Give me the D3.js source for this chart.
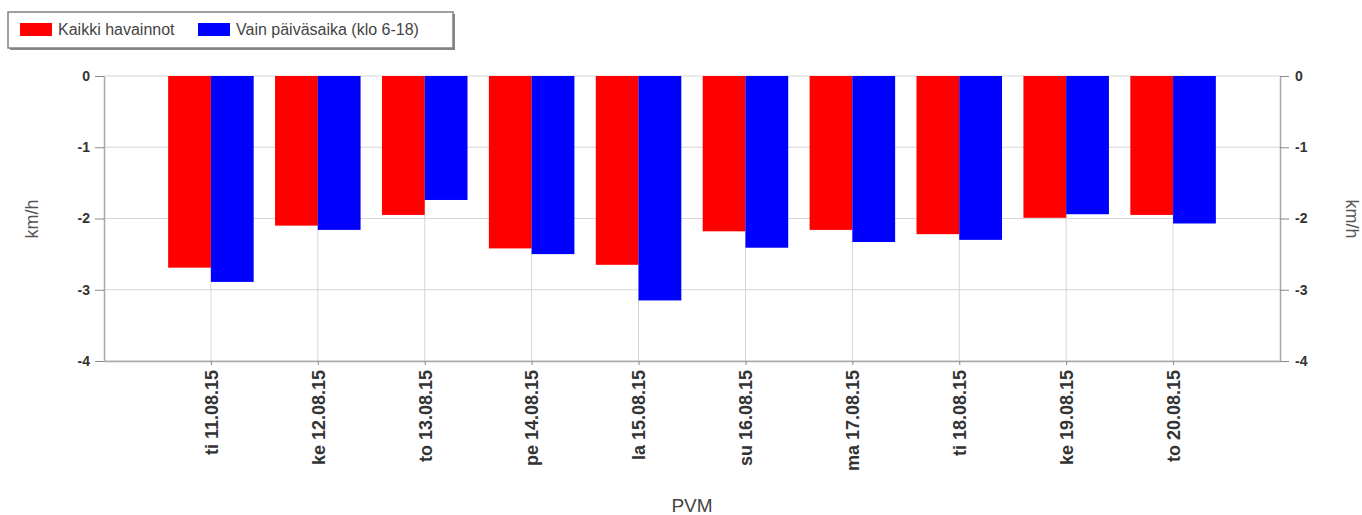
<!DOCTYPE html>
<html><head><meta charset="utf-8">
<script src="https://cdn.jsdelivr.net/npm/d3@7"></script>
<style>body{margin:0;background:#fff}svg{display:block}text{font-family:"Liberation Sans",Arial,sans-serif}</style>
</head><body><svg id="c" width="1362" height="515"></svg>
<script>
const categories = ["ti 11.08.15","ke 12.08.15","to 13.08.15","pe 14.08.15","la 15.08.15","su 16.08.15","ma 17.08.15","ti 18.08.15","ke 19.08.15","to 20.08.15"];
const seriesNames = ["Kaikki havainnot","Vain päiväsaika (klo 6-18)"];
const allObs = [-2.69,-2.10,-1.95,-2.42,-2.65,-2.18,-2.16,-2.22,-1.99,-1.95];
const daytime = [-2.89,-2.16,-1.74,-2.50,-3.15,-2.41,-2.33,-2.30,-1.94,-2.07];
const yTicks = [0,-1,-2,-3,-4];
const colors = ["#ff0000","#0000ff"];

const svg = d3.select("#c");
const L=104,R=1280,T=76,B=361;
const x = d3.scaleLinear().domain([0,categories.length+1]).range([L,R]);
const y = d3.scaleLinear().domain([0,-4]).range([T,B]);
const bw = 0.4;
const grid="#d6d6d6", axisC="#a8a8a8";

// gridlines
svg.append("g").selectAll("line").data(yTicks).join("line")
  .attr("x1",L).attr("x2",R).attr("y1",d=>y(d)).attr("y2",d=>y(d)).attr("stroke",grid).attr("stroke-width",1.2);
svg.append("g").selectAll("line").data(categories).join("line")
  .attr("x1",(d,i)=>x(i+1)).attr("x2",(d,i)=>x(i+1)).attr("y1",T).attr("y2",B).attr("stroke",grid);

// bars
const series=[allObs,daytime];
series.forEach((vals,s)=>{
  svg.append("g").selectAll("rect").data(vals).join("rect")
    .attr("x",(d,i)=>x(i+1+(s===0?-bw:0)))
    .attr("width",x(bw)-x(0))
    .attr("y",y(0)).attr("height",d=>y(d)-y(0))
    .attr("fill",colors[s]);
});

// axes
const fmt=d=>String(d);
const la=svg.append("g").attr("transform",`translate(${L},0)`).call(d3.axisLeft(y).tickValues(yTicks).tickFormat(fmt).tickSize(9).tickPadding(5).tickSizeOuter(0));
const ra=svg.append("g").attr("transform",`translate(${R},0)`).call(d3.axisRight(y).tickValues(yTicks).tickFormat(fmt).tickSize(9).tickPadding(6).tickSizeOuter(0));
const xa=svg.append("g").attr("transform",`translate(0,${B})`).call(d3.axisBottom(x).tickValues(d3.range(1,categories.length+1)).tickFormat(d=>categories[d-1]).tickSize(4).tickSizeOuter(0));
[la,ra,xa].forEach(a=>{a.select(".domain").attr("stroke",axisC).attr("stroke-width",1.5);a.selectAll(".tick line").attr("stroke","#888");
  a.selectAll("text").attr("font-size",14).attr("font-weight","bold").attr("fill","#333");});
xa.selectAll("text").attr("font-size",18).attr("transform","rotate(-90)").attr("text-anchor","end").attr("dy","0.35em").attr("x",-9).attr("y",0);

// axis titles
svg.append("text").attr("transform","translate(38,219) rotate(-90)").attr("text-anchor","middle").attr("font-size",18).attr("fill","#555").text("km/h");
svg.append("text").attr("transform","translate(1346,219) rotate(90)").attr("text-anchor","middle").attr("font-size",18).attr("fill","#555").text("km/h");
svg.append("text").attr("x",692).attr("y",512).attr("text-anchor","middle").attr("font-size",19).attr("fill","#444").text("PVM");

// legend
const lg=svg.append("g");
lg.append("rect").attr("x",10).attr("y",14).attr("width",445).attr("height",36).attr("fill","#888");
lg.append("rect").attr("x",8).attr("y",12).attr("width",445).attr("height",36).attr("fill","#fff").attr("stroke","#808080").attr("stroke-width",1.5);
const lx=[20,198];
seriesNames.forEach((n,i)=>{
  lg.append("rect").attr("x",lx[i]).attr("y",23).attr("width",32).attr("height",13).attr("fill",colors[i]);
  lg.append("text").attr("x",lx[i]+38).attr("y",35).attr("font-size",16).attr("fill","#444").text(n);
});
</script></body></html>
